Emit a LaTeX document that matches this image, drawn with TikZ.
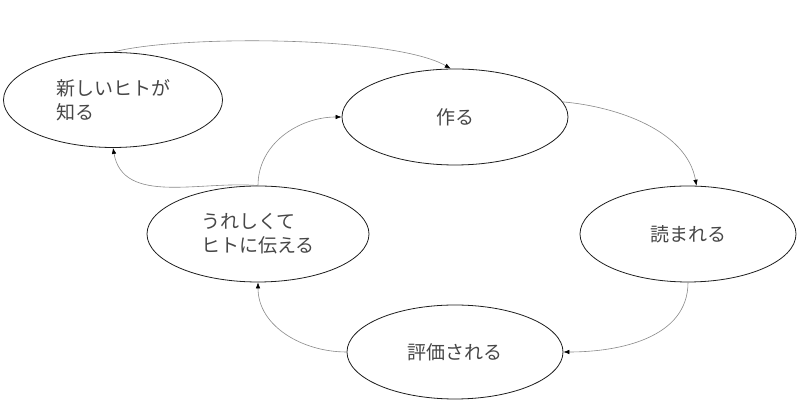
\documentclass[tikz,border=0pt]{standalone}
\usepackage{fontspec}
\usepackage{xcolor}
\usetikzlibrary{arrows.meta,shapes.geometric}
\newfontfamily\jpfont{Noto Sans CJK JP}
\definecolor{canvas}{HTML}{FFFFFF}
\definecolor{rim}{HTML}{1E1E1E}
\definecolor{linkgray}{HTML}{8A8A8A}
\definecolor{ink}{HTML}{474747}

\begin{document}
\begin{tikzpicture}[x=1pt,y=1pt,
stage/.style={ellipse,draw=rim,line width=0.8pt,inner sep=0pt,text=ink,align=left,font=\jpfont\fontsize{19}{24}\selectfont},
link/.style={draw=linkgray,line width=0.6pt,-{Latex[color=black,length=6pt,width=4.5pt]}}]
\useasboundingbox (0,0) rectangle (800,419);
\fill[canvas] (0,0) rectangle (800,419);
\node[stage,minimum width=219pt,minimum height=95pt] (know) at (113,319) {新しいヒトが\\知る};
\node[stage,minimum width=226pt,minimum height=96pt] (make) at (455,302) {作る};
\node[stage,minimum width=216pt,minimum height=96pt] (read) at (688,185) {読まれる};
\node[stage,minimum width=216pt,minimum height=94pt] (rate) at (455,67) {評価される};
\node[stage,minimum width=222pt,minimum height=96pt] (share) at (258,185) {うれしくて\\ヒトに伝える};
\draw[link] (know.north) to[out=15,in=150,looseness=0.5] (make.95);
\draw[link] (make.8) to[out=-5,in=100,looseness=0.9] (read.80);
\draw[link] (read.south) to[out=-90,in=0] (rate.east);
\draw[link] (rate.west) to[out=180,in=-90] (share.south);
\draw[link] (share.north) to[out=90,in=180] (make.west);
\draw[link] (share.north) to[out=175,in=-80] (know.south);
\end{tikzpicture}
\end{document}
